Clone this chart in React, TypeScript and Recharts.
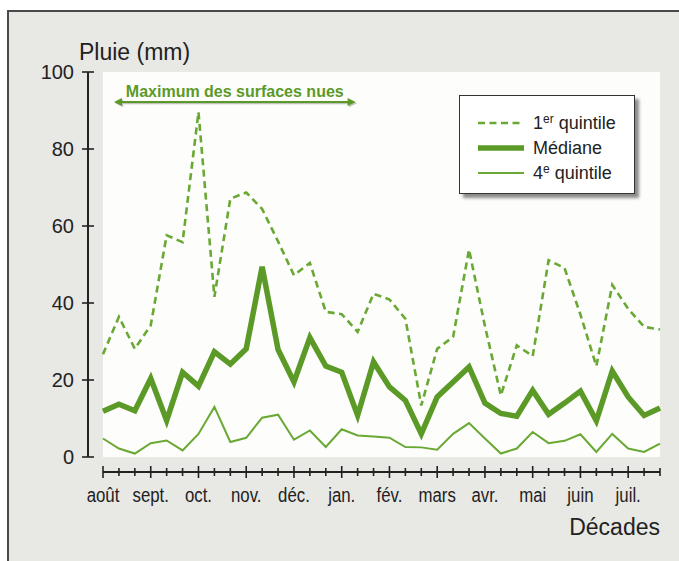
import React from 'react';
import { LineChart, Line, XAxis, YAxis, CartesianGrid, Legend, ReferenceLine } from 'recharts';

// month labels; each month has 3 décades
const months = ['août', 'sept.', 'oct.', 'nov.', 'déc.', 'jan.', 'fév.', 'mars', 'avr.', 'mai', 'juin', 'juil.'];
const decades = months.flatMap((m) => [`${m} 1`, `${m} 2`, `${m} 3`]);

// rainfall (mm) per décade
const quintile1 = [
  26.7, 36.4, 28.1, 34.2, 57.6, 55.8, 89.6, 41.6, 67.1, 68.7, 64.4, 56,
  47.2, 50.4, 37.7, 37.1, 32.5, 42.4, 40.9, 35.9, 13.4, 28.1, 31.2, 53.9,
  34, 16, 29, 26.2, 51.1, 49.1, 37, 23.6, 44.7, 38.5, 33.8, 33.1,
];
const mediane = [
  11.9, 13.7, 12, 20.4, 9.5, 22, 18.4, 27.3, 24.1, 28.1, 49.4, 27.9,
  19.5, 31, 23.6, 22, 10.8, 24.7, 18.2, 14.7, 6, 15.6, 19.5, 23.4,
  14, 11.3, 10.6, 17.3, 11.1, 14, 17.1, 9.4, 22.3, 15.6, 10.8, 12.7,
];
const quintile4 = [
  4.8, 2.2, 0.9, 3.6, 4.3, 1.7, 6, 13, 3.9, 5, 10.2, 11,
  4.5, 6.9, 2.6, 7.2, 5.6, 5.3, 5, 2.6, 2.5, 1.9, 6, 8.8,
  4.8, 0.9, 2.2, 6.5, 3.6, 4.2, 5.9, 1.3, 6, 2.2, 1.3, 3.5,
];
const yTicks = [0, 20, 40, 60, 80, 100];

const data = decades.map((d, i) => ({
  decade: d,
  q1: quintile1[i],
  med: mediane[i],
  q4: quintile4[i],
}));

const GREEN = '#5b9a27';
const LIGHT = '#6aa834';
const INK = '#222';
const FONT = '"Liberation Sans", Arial, Helvetica, sans-serif';

const series = [
  { key: 'q1', name: '1er quintile', color: LIGHT, width: 2.6, dash: '7 4.5' },
  { key: 'med', name: 'Médiane', color: GREEN, width: 5.5, dash: undefined },
  { key: 'q4', name: '4e quintile', color: LIGHT, width: 2, dash: undefined },
];

function XTick(props: any) {
  const { x, y, payload } = props;
  const major = String(payload.value).endsWith(' 1');
  const h = major ? 6 : 4;
  return (
    <g>
      <line x1={x} x2={x} y1={y - h} y2={y + h} stroke={INK} strokeWidth={1.6} />
      {major && (
        <text
          transform={`translate(${x},${y + 30}) scale(0.8,1)`}
          textAnchor="middle"
          fontFamily={FONT}
          fontSize={21}
          fill={INK}
        >
          {String(payload.value).split(' ')[0]}
        </text>
      )}
    </g>
  );
}

function YTick(props: any) {
  const { x, y, payload } = props;
  return (
    <g>
      <line x1={x - 6} x2={x + 6} y1={y} y2={y} stroke={INK} strokeWidth={1.6} />
      <text x={x - 14} y={y + 7} textAnchor="end" fontFamily={FONT} fontSize={20} fill={INK}>
        {payload.value}
      </text>
    </g>
  );
}

function ArrowShape(props: any) {
  const { x1, x2, y1 } = props;
  const a = x1 - 5;
  const b = x2 - 2;
  const y = y1;
  const head = 8;
  const draw = (color: string) => (
    <>
      <line x1={a + head - 1} x2={b - head + 1} y1={y} y2={y} stroke={color} strokeWidth={2} />
      <path d={`M${a},${y} L${a + head},${y - 4} L${a + head},${y + 4} Z`} fill={color} />
      <path d={`M${b},${y} L${b - head},${y - 4} L${b - head},${y + 4} Z`} fill={color} />
    </>
  );
  return (
    <g>
      <g transform="translate(1.3,1.3)" opacity={0.35}>{draw('#555')}</g>
      {draw(GREEN)}
      <text
        x={(a + b) / 2}
        y={y - 5}
        textAnchor="middle"
        fontFamily={FONT}
        fontWeight="bold"
        fontSize={16}
        fill={GREEN}
      >
        Maximum des surfaces nues
      </text>
    </g>
  );
}

function renderName(name: string) {
  const m = name.match(/^(\d)(\S+)( .*)$/);
  if (!m) return name;
  return (
    <>
      {m[1]}
      <sup style={{ fontSize: 12, verticalAlign: 'top', lineHeight: '12px' }}>{m[2]}</sup>
      {m[3]}
    </>
  );
}

function LegendBox(props: any) {
  const { payload = [] } = props;
  const order = (e: any) => series.findIndex((s) => s.key === e.dataKey);
  const items = [...payload].sort((p, q) => order(p) - order(q));
  return (
    <div
      style={{
        width: 176,
        height: 99,
        boxSizing: 'border-box',
        border: '1.5px solid #333',
        background: '#fff',
        boxShadow: '4px 4px 3px rgba(0,0,0,0.45)',
        paddingTop: 14,
        fontFamily: FONT,
        fontSize: 18,
        color: INK,
      }}
    >
      {items.map((entry: any) => {
        const s = series.find((it) => it.key === entry.dataKey) || series[0];
        return (
          <div key={s.key} style={{ display: 'flex', alignItems: 'center', height: 25 }}>
            <svg width={46} height={10} style={{ marginLeft: 18, marginRight: 9 }}>
              <line
                x1={0}
                x2={46}
                y1={5}
                y2={5}
                stroke={s.color}
                strokeWidth={s.width}
                strokeDasharray={s.dash}
              />
            </svg>
            <span style={{ lineHeight: '20px' }}>{renderName(entry.value)}</span>
          </div>
        );
      })}
    </div>
  );
}

export default function App() {
  return (
    <div style={{ position: 'absolute', left: 0, top: 0, width: 679, height: 561, overflow: 'hidden', background: '#fff' }}>
      <div
        style={{
          position: 'absolute',
          left: 7,
          top: 10,
          width: 700,
          height: 600,
          background: '#e8e8e5',
          borderLeft: '2px solid #4a4a4a',
          borderTop: '2px solid #4a4a4a',
        }}
      />
      <div style={{ position: 'absolute', left: 0, top: 0 }}>
        <LineChart width={679} height={561} data={data} margin={{ top: 72, right: 19, bottom: 29, left: 0 }}>
          <XAxis
            xAxisId="b"
            dataKey="decade"
            height={60}
            interval={0}
            tickSize={0}
            tickMargin={0}
            tickLine={false}
            tick={XTick}
            axisLine={{ stroke: INK, strokeWidth: 2 }}
            label={(p: any) => {
              const vb = p.viewBox || {};
              return (
                <text x={vb.x + vb.width} y={vb.y + 63} textAnchor="end" fontFamily={FONT} fontSize={23} fill={INK}>
                  Décades
                </text>
              );
            }}
          />
          <XAxis xAxisId="a" dataKey="decade" height={15} tick={false} axisLine={false} tickLine={false} />
          <YAxis
            yAxisId="b"
            width={88}
            domain={[0, 100]}
            ticks={yTicks}
            interval={0}
            tickSize={0}
            tickMargin={0}
            tickLine={false}
            tick={YTick}
            axisLine={{ stroke: INK, strokeWidth: 2 }}
            label={(p: any) => {
              const vb = p.viewBox || {};
              return (
                <text x={vb.x + vb.width - 9} y={vb.y - 12} textAnchor="start" fontFamily={FONT} fontSize={23} fill={INK}>
                  Pluie (mm)
                </text>
              );
            }}
          />
          <YAxis yAxisId="a" width={15} tick={false} axisLine={false} tickLine={false} />
          <CartesianGrid xAxisId="b" yAxisId="b" horizontal={false} vertical={false} fill="#fdfdfc" stroke="none" />
          <ReferenceLine
            xAxisId="b"
            yAxisId="b"
            segment={[
              { x: decades[1], y: 92.2 },
              { x: decades[16], y: 92.2 },
            ]}
            shape={ArrowShape}
            ifOverflow="visible"
          />
          {series.map((s) => (
            <Line
              key={s.key}
              xAxisId="b"
              yAxisId="b"
              type="linear"
              dataKey={s.key}
              name={s.name}
              stroke={s.color}
              strokeWidth={s.width}
              strokeDasharray={s.dash}
              strokeLinejoin="miter"
              dot={false}
              activeDot={false}
              isAnimationActive={false}
            />
          ))}
          <Legend
            layout="vertical"
            align="center"
            verticalAlign="middle"
            content={LegendBox}
            wrapperStyle={{ position: 'absolute', left: 459, top: 95, width: 180, height: 102 }}
          />
        </LineChart>
      </div>
    </div>
  );
}
